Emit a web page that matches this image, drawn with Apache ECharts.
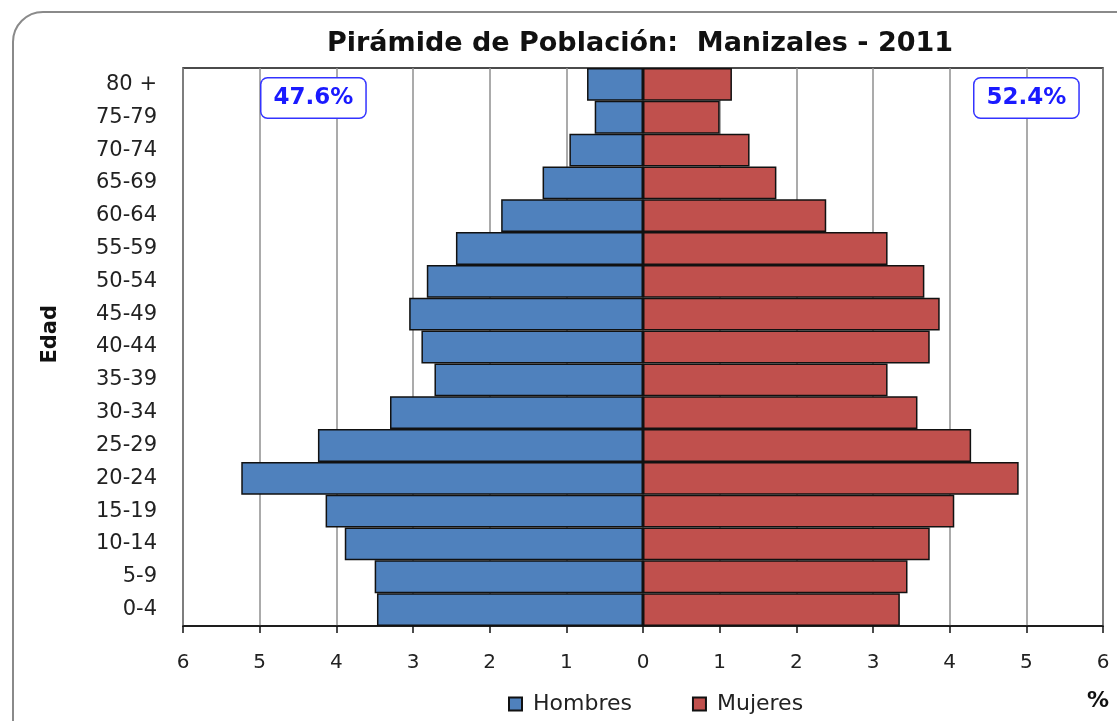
<!DOCTYPE html>
<html>
<head>
<meta charset="utf-8">
<script src="https://cdn.jsdelivr.net/npm/echarts@6/dist/echarts.min.js"></script>
<style>
  html, body { margin: 0; padding: 0; background: #fff; }
  #chart { width: 1117px; height: 721px; }
</style>
</head>
<body>
<div id="chart"></div>
<script>
// Age groups, bottom to top
const ageGroups = ['0-4', '5-9', '10-14', '15-19', '20-24', '25-29', '30-34', '35-39',
  '40-44', '45-49', '50-54', '55-59', '60-64', '65-69', '70-74', '75-79', '80 +'];
// Share of total population (%) per age group
const hombres = [3.47, 3.50, 3.89, 4.14, 5.24, 4.24, 3.30, 2.72, 2.89, 3.05, 2.82, 2.44, 1.85, 1.31, 0.96, 0.63, 0.73];
const mujeres = [3.35, 3.45, 3.74, 4.06, 4.90, 4.28, 3.58, 3.19, 3.74, 3.87, 3.67, 3.19, 2.39, 1.74, 1.39, 1.00, 1.16];
const totalHombres = '47.6%';
const totalMujeres = '52.4%';
const xTicks = [-6, 6, 1]; // min, max, interval

const FONT = 'DejaVu Sans';
const chart = echarts.init(document.getElementById('chart'), null, { renderer: 'canvas' });

const percentBox = (x, text) => ({
  type: 'text', left: x, top: 77, z: 10,
  style: {
    text: text, font: 'bold 23px "' + FONT + '"', fill: '#1a1aff',
    backgroundColor: '#fff', borderColor: '#3333ff', borderWidth: 1.5, borderRadius: 6,
    padding: [8, 12, 8, 12]
  }
});

chart.setOption({
  backgroundColor: '#fff',
  animation: false,
  title: {
    text: 'Pirámide de Población:  Manizales - 2011',
    left: 635, textAlign: 'center', top: 25,
    textStyle: { fontFamily: FONT, fontWeight: 'bold', fontSize: 27, color: '#111' }
  },
  grid: {
    left: 183, right: 14, top: 68, bottom: 95,
    show: true, borderColor: '#111', borderWidth: 1.5, backgroundColor: '#fff'
  },
  xAxis: {
    type: 'value', min: xTicks[0], max: xTicks[1], interval: xTicks[2],
    axisLine: { show: true, lineStyle: { color: '#111', width: 1.5 } },
    axisTick: { show: true, length: 7, lineStyle: { color: '#111', width: 1.5 } },
    axisLabel: {
      margin: 27, fontFamily: FONT, fontSize: 20, color: '#222',
      formatter: v => String(Math.abs(v))
    },
    splitLine: { show: true, lineStyle: { color: '#8f8f8f', width: 1.5 } }
  },
  yAxis: {
    type: 'category', data: ageGroups,
    axisLine: { show: false }, axisTick: { show: false },
    axisLabel: { margin: 26, fontFamily: FONT, fontSize: 21, color: '#222' }
  },
  legend: {
    bottom: 1, left: 503, itemWidth: 13, itemHeight: 13, itemGap: 60,
    icon: 'rect',
    textStyle: { fontFamily: FONT, fontSize: 22, color: '#222', padding: [0, 0, 0, 6] },
    data: ['Hombres', 'Mujeres']
  },
  series: [
    {
      name: 'Hombres', type: 'bar', barGap: '-100%', barCategoryGap: '0%',
      data: hombres.map(v => -v),
      itemStyle: { color: '#4f81bd', borderColor: '#111', borderWidth: 1.5 }
    },
    {
      name: 'Mujeres', type: 'bar', barGap: '-100%', barCategoryGap: '0%',
      data: mujeres,
      itemStyle: { color: '#c0504d', borderColor: '#111', borderWidth: 1.5 }
    }
  ],
  graphic: [
    {
      type: 'rect', silent: true, z: -10,
      shape: { x: 13, y: 12, width: 1140, height: 740, r: 30 },
      style: { fill: 'none', stroke: '#8a8a8a', lineWidth: 2 }
    },
    {
      type: 'text', left: 40, top: 305, rotation: Math.PI / 2, z: 10,
      style: { text: 'Edad', font: 'bold 21px "' + FONT + '"', fill: '#111' }
    },
    {
      type: 'text', left: 1087, top: 690, z: 10,
      style: { text: '%', font: 'bold 22px "' + FONT + '"', fill: '#111' }
    },
    percentBox(260, totalHombres),
    percentBox(973, totalMujeres)
  ]
});
</script>
</body>
</html>
